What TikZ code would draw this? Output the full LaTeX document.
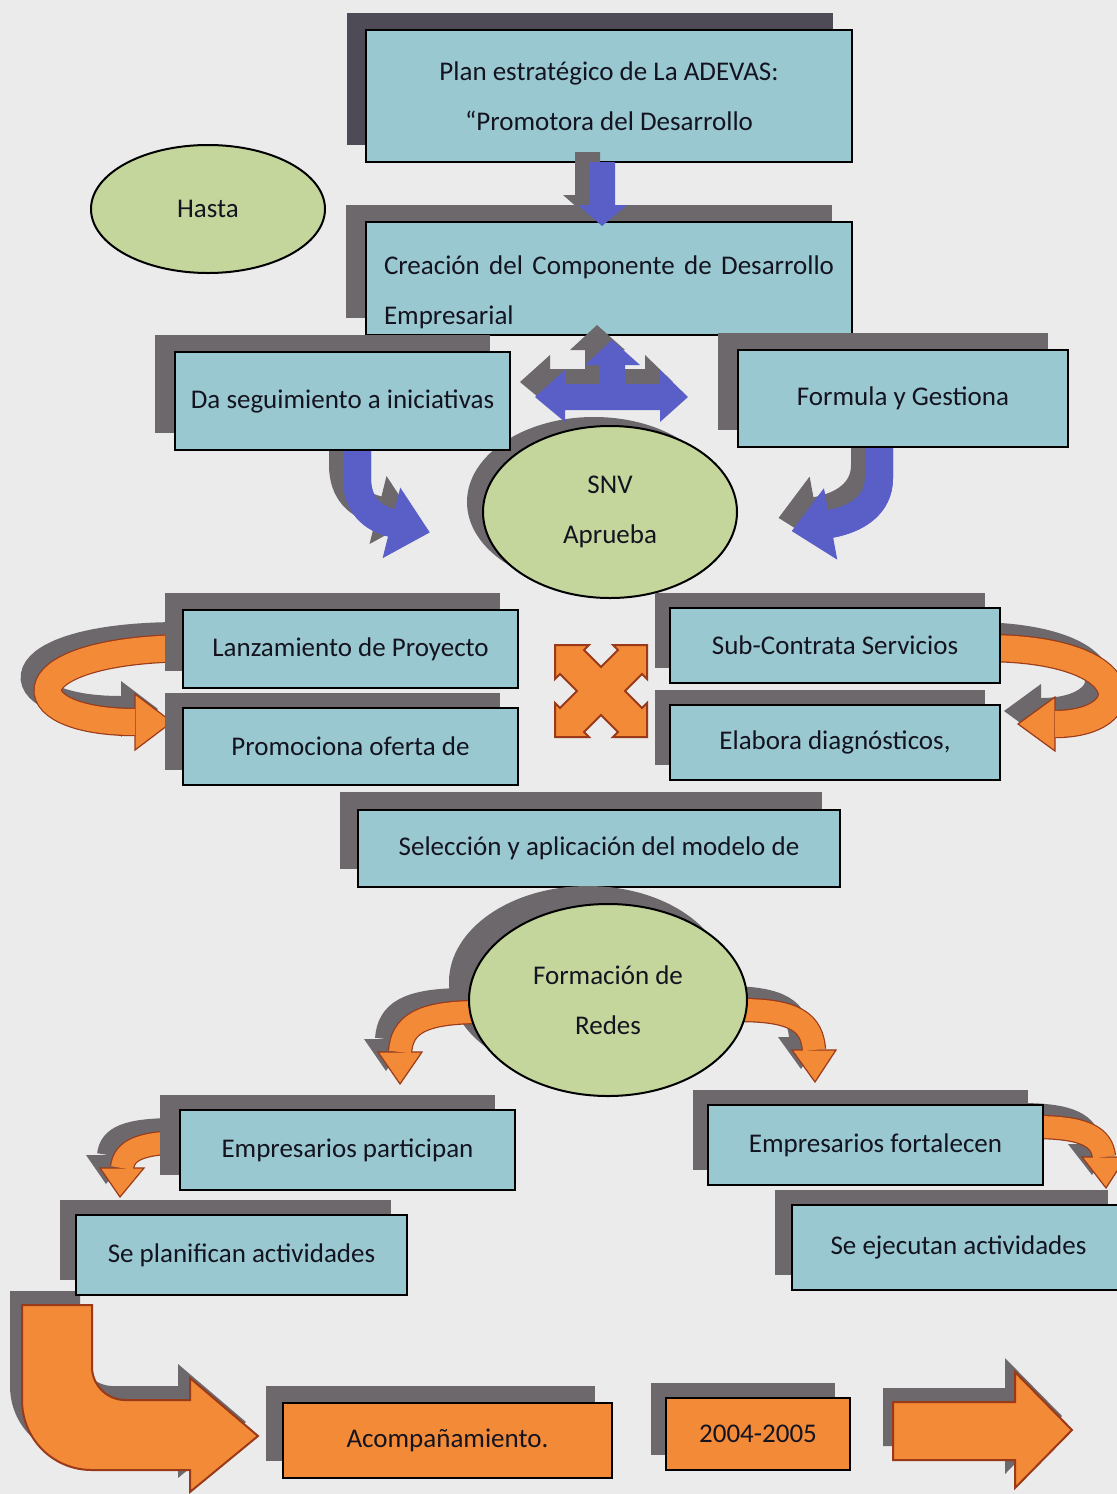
\documentclass[tikz,border=0pt]{standalone}
\usepackage{fontspec}
\setmainfont{Carlito}
\usetikzlibrary{shapes.geometric}
\definecolor{boxc}{HTML}{99C8D1}
\definecolor{shc}{HTML}{6C686C}
\definecolor{shd}{HTML}{4E4A56}
\definecolor{grn}{HTML}{C4D69C}
\definecolor{blu}{HTML}{5A5FC8}
\definecolor{org}{HTML}{F28A38}
\definecolor{orgd}{HTML}{9A3A18}
\definecolor{txt}{HTML}{141420}
\definecolor{paper}{HTML}{EBEBEC}
\tikzset{
  bx/.style={draw=black, line width=1.3pt, fill=boxc, inner sep=0pt, text=txt,
    align=center, font=\fontsize{13.5}{25}\selectfont},
  obx/.style={bx, fill=org},
  ell/.style={ellipse, draw=black, line width=1pt, fill=grn, inner sep=0pt, text=txt,
    align=center, font=\fontsize{13.5}{25}\selectfont},
}
% #1 style, #2 name, #3 x1, #4 y1, #5 x2, #6 y2, #7 shadow shift, #8 text
\newcommand\mkbox[9][shc]{%
  \fill[#1] ([shift={#8}]#4,#5) rectangle ([shift={#8}]#6,#7);
  \node[#2, minimum width={(#6-#4)*0.5pt}, minimum height={(#7-#5)*0.5pt}] (#3)
    at ({(#4+#6)/2},{(#5+#7)/2}) {#9};}
% #1 colour, #2 shadow shift, #3 path
\newcommand\shfill[3]{\fill[shc, shift={#2}] #3; \fill[#1] #3;}
% #1 fill, #2 edge, #3 width, #4 edge width, #5 path, #6 head
\newcommand\band[6]{%
  \draw[shc, line width=#3, shift={(-14,-13)}] #5;
  \fill[shc, shift={(-14,-13)}] #6;
  \draw[#2, line width=#4] #5;
  \fill[#1, draw=#2, line width=0.6pt] #6;
  \draw[#1, line width=#3] #5;}
\begin{document}
\begin{tikzpicture}[x=0.5pt,y=-0.5pt]
\useasboundingbox (0,0) rectangle (1117,1494);
\fill[paper] (0,0) rectangle (1117,1494);

% top box
\mkbox[shd]{bx}{plan}{366}{30}{852}{162}{(-19,-17)}{Plan estratégico de La ADEVAS:\\“Promotora del Desarrollo}
% second box
\mkbox{bx, text width=225pt, align=left}{crea}{366}{222}{852}{335}{(-20,-17)}{\rule{0pt}{23pt}Creación\hfill del\hfill Componente\hfill de\hfill Desarrollo\\Empresarial}
% down arrow
\shfill{blu}{(-15,-10)}{(590,162) -- (615,162) -- (615,205) -- (627,205) -- (602,226) -- (578,205) -- (590,205) -- cycle}

\node[ell, minimum width=117pt, minimum height=64pt] (hasta) at (208,209) {Hasta};

% SNV circle
\fill[shc] (594,502) ellipse [x radius=63.5pt, y radius=42.5pt];
\node[ell, minimum width=127pt, minimum height=86pt] (snv) at (610,512) {SNV\\Aprueba};

% blue curved arrows
\band{blu}{blu}{14pt}{14pt}{(357,440) -- (357,478) .. controls (357,505) and (372,518) .. (392,523)}{(400.5,489) -- (428.9,532.2) -- (383.5,557) -- cycle}
\band{blu}{blu}{14pt}{14pt}{(879,440) -- (879,478) .. controls (879,505) and (857,519) .. (830,524)}{(823.6,489.6) -- (792.6,530.9) -- (836.4,558.4) -- cycle}

\mkbox{bx}{segui}{175}{352}{510}{450}{(-20,-17)}{Da seguimiento a iniciativas}
\mkbox{bx}{formula}{738}{350}{1068}{447}{(-20,-17)}{Formula y Gestiona}

% up-left-right arrow
\shfill{blu}{(-15,-15)}{(535,397) -- (565,370) -- (565,384) -- (600,384) -- (600,365) -- (585,365) -- (612,340) -- (640,365) -- (625,365) -- (625,384) -- (660,384) -- (660,370) -- (688,397) -- (660,422) -- (660,410) -- (565,410) -- (565,422) -- cycle}

% orange C arrows
\band{org}{orgd}{13pt}{14.2pt}{(195,648) .. controls (10,648) and (10,722) .. (135,722)}{(135,694) -- (172,722) -- (135,750) -- cycle}
\band{org}{orgd}{13pt}{14.2pt}{(985,648) .. controls (1140,648) and (1140,724) .. (1055,724)}{(1055,697) -- (1018,724) -- (1055,751) -- cycle}

\mkbox{bx}{lanz}{183}{610}{518}{688}{(-18,-17)}{Lanzamiento de Proyecto}
\mkbox{bx}{promo}{183}{708}{518}{785}{(-18,-15)}{Promociona oferta de}
\mkbox{bx}{subc}{670}{608}{1000}{683}{(-15,-15)}{Sub-Contrata Servicios}
\mkbox{bx}{elab}{670}{705}{1000}{780}{(-15,-15)}{Elabora diagnósticos,}

% orange X
\fill[org, draw=orgd, line width=1pt, shift={(601,691)}] (-46,-46) -- (-12,-46) -- (-17,-41) -- (0,-24) -- (17,-41) -- (12,-46) -- (46,-46) -- (46,-12) -- (41,-17) -- (24,0) -- (41,17) -- (46,12) -- (46,46) -- (12,46) -- (17,41) -- (0,24) -- (-17,41) -- (-12,46) -- (-46,46) -- (-46,12) -- (-41,17) -- (-24,0) -- (-41,-17) -- (-46,-12) -- cycle;

\mkbox{bx}{selec}{358}{810}{840}{887}{(-18,-18)}{Selección y aplicación del modelo de}

% Formación circle
\fill[shc] (588,982) ellipse [x radius=69.5pt, y radius=48pt];
\band{org}{orgd}{11pt}{12.2pt}{(480,1012) .. controls (420,1012) and (402,1025) .. (400,1052)}{(378,1052) -- (400,1084) -- (422,1052) -- cycle}
\band{org}{orgd}{11pt}{12.2pt}{(740,1010) .. controls (796,1010) and (812,1023) .. (814,1050)}{(792,1050) -- (815,1082) -- (836,1050) -- cycle}
\node[ell, minimum width=139pt, minimum height=96pt] (redes) at (608,1000) {Formación de\\Redes};

% orange arrows beside lower boxes
\band{org}{orgd}{11pt}{12.2pt}{(190,1142) .. controls (140,1142) and (124,1150) .. (122,1168)}{(100,1168) -- (120,1197) -- (144,1168) -- cycle}
\band{org}{orgd}{11pt}{12.2pt}{(1035,1127) .. controls (1085,1127) and (1102,1137) .. (1104,1157)}{(1082,1157) -- (1106,1188) -- (1126,1157) -- cycle}

\mkbox{bx}{epart}{180}{1110}{515}{1190}{(-20,-15)}{Empresarios participan}
\mkbox{bx}{efort}{708}{1105}{1043}{1185}{(-15,-15)}{Empresarios fortalecen}

% big L arrow
\fill[shc, shift={(-12,-14)}] (22,1305) -- (22,1400) .. controls (22,1439) and (53,1470) .. (92,1470) -- (190,1470) -- (190,1492) -- (258,1436) -- (190,1378) -- (190,1400) -- (125,1400) .. controls (107,1400) and (92,1385) .. (92,1367) -- (92,1305) -- cycle;
\fill[org, draw=orgd, line width=1pt] (22,1305) -- (22,1400) .. controls (22,1439) and (53,1470) .. (92,1470) -- (190,1470) -- (190,1492) -- (258,1436) -- (190,1378) -- (190,1400) -- (125,1400) .. controls (107,1400) and (92,1385) .. (92,1367) -- (92,1305) -- cycle;

\mkbox{bx}{eplan}{76}{1215}{407}{1295}{(-16,-15)}{Se planifican actividades}
\mkbox{bx}{eejec}{792}{1205}{1125}{1290}{(-17,-15)}{Se ejecutan actividades}

\mkbox{obx}{acomp}{283}{1403}{612}{1478}{(-17,-17)}{Acompañamiento.}
\mkbox{obx}{anios}{666}{1398}{850}{1470}{(-15,-15)}{2004-2005}

% right arrow
\fill[shc, shift={(-10,-14)}] (893,1402) -- (1015,1402) -- (1015,1372) -- (1072,1430) -- (1015,1488) -- (1015,1460) -- (893,1460) -- cycle;
\fill[org, draw=orgd, line width=1pt] (893,1402) -- (1015,1402) -- (1015,1372) -- (1072,1430) -- (1015,1488) -- (1015,1460) -- (893,1460) -- cycle;
\end{tikzpicture}
\end{document}
